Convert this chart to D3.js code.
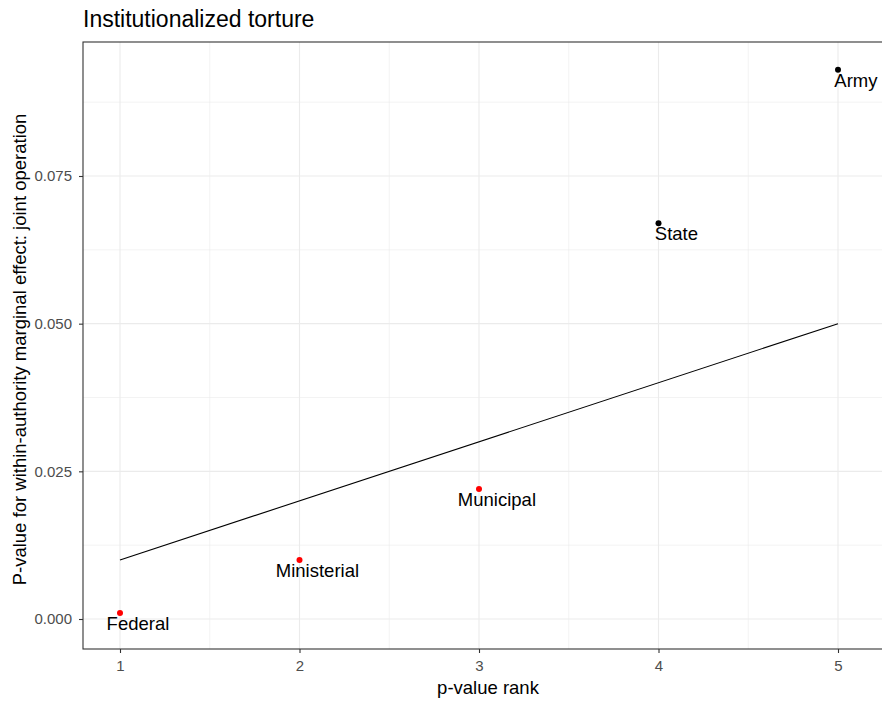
<!DOCTYPE html>
<html lang="en">
<head>
    <meta charset="UTF-8">
    <title>Institutionalized torture</title>
    <style>
        body { margin: 0; background: #fff; }
        text { font-family: "Liberation Sans", Arial, sans-serif; }
    </style>
</head>
<body>
    <div id="chart"></div>
    <script src="https://d3js.org/d3.v7.min.js"></script>
    <script>
        // data
        const authorities = ["Federal", "Ministerial", "Municipal", "State", "Army"];
        const ranks = [1, 2, 3, 4, 5];
        const pValues = [0.001, 0.010, 0.022, 0.067, 0.093];
        const significant = [true, true, true, false, false];
        // Benjamini-Hochberg threshold line (rank / 5 * 0.05)
        const lineRanks = [1, 5];
        const lineValues = [0.010, 0.050];
        const yTicks = [0, 0.025, 0.05, 0.075];
        const xTicks = [1, 2, 3, 4, 5];

        const width = 882, height = 704;
        const panel = { left: 83, top: 42, right: 893, bottom: 649 };

        const svg = d3.select("#chart").append("svg")
            .attr("width", width)
            .attr("height", height);

        const x = d3.scaleLinear().domain([1, 5]).range([120, 838]);
        const y = d3.scaleLinear().domain([0, 0.075]).range([619, 176]);

        // grid lines (major + minor like theme_bw)
        const grid = svg.append("g");
        const xGrid = d3.range(1, 5.01, 0.5);
        const yGrid = d3.range(0, 0.0976, 0.0125);
        grid.selectAll(".vg").data(xGrid).enter().append("line")
            .attr("x1", d => x(d)).attr("x2", d => x(d))
            .attr("y1", panel.top).attr("y2", panel.bottom)
            .attr("stroke", "#ebebeb")
            .attr("stroke-width", (d, i) => i % 2 === 0 ? 1.1 : 0.6);
        grid.selectAll(".hg").data(yGrid).enter().append("line")
            .attr("x1", panel.left).attr("x2", panel.right)
            .attr("y1", d => y(d)).attr("y2", d => y(d))
            .attr("stroke", "#ebebeb")
            .attr("stroke-width", (d, i) => i % 2 === 0 ? 1.1 : 0.6);

        // threshold line
        svg.append("line")
            .attr("x1", x(lineRanks[0])).attr("y1", y(lineValues[0]))
            .attr("x2", x(lineRanks[1])).attr("y2", y(lineValues[1]))
            .attr("stroke", "black")
            .attr("stroke-width", 1.1);

        // points
        svg.selectAll(".pt").data(ranks).enter().append("circle")
            .attr("cx", d => x(d))
            .attr("cy", (d, i) => y(pValues[i]))
            .attr("r", 3)
            .attr("fill", (d, i) => significant[i] ? "red" : "black");

        // labels nudged right and down
        svg.selectAll(".lbl").data(ranks).enter().append("text")
            .attr("x", d => x(d + 0.1))
            .attr("y", (d, i) => y(pValues[i]) + 17)
            .attr("text-anchor", "middle")
            .attr("font-size", 18.5)
            .attr("fill", "black")
            .text((d, i) => authorities[i]);

        // panel border
        svg.append("rect")
            .attr("x", panel.left).attr("y", panel.top)
            .attr("width", panel.right - panel.left)
            .attr("height", panel.bottom - panel.top)
            .attr("fill", "none")
            .attr("stroke", "#333333")
            .attr("stroke-width", 1.1);

        // axes
        const xAxis = svg.append("g")
            .attr("transform", `translate(0,${panel.bottom})`)
            .call(d3.axisBottom(x).tickValues(xTicks).tickSize(4).tickPadding(7).tickFormat(d3.format("d")));
        const yAxis = svg.append("g")
            .attr("transform", `translate(${panel.left},0)`)
            .call(d3.axisLeft(y).tickValues(yTicks).tickSize(4).tickPadding(7).tickFormat(d3.format(".3f")));
        [xAxis, yAxis].forEach(a => {
            a.select(".domain").remove();
            a.selectAll(".tick line").attr("stroke", "#333333").attr("stroke-width", 1.1);
            a.selectAll(".tick text")
                .attr("fill", "#4d4d4d")
                .attr("font-size", 15)
                .attr("font-family", "'Liberation Sans', Arial, sans-serif");
        });

        // titles
        svg.append("text")
            .attr("x", panel.left).attr("y", 27)
            .attr("font-size", 23)
            .attr("fill", "black")
            .text("Institutionalized torture");

        svg.append("text")
            .attr("x", (panel.left + panel.right) / 2).attr("y", 694)
            .attr("text-anchor", "middle")
            .attr("font-size", 18.5)
            .attr("fill", "black")
            .text("p-value rank");

        svg.append("text")
            .attr("transform", `translate(26,${(panel.top + panel.bottom) / 2 + 4}) rotate(-90)`)
            .attr("text-anchor", "middle")
            .attr("font-size", 18.5)
            .attr("fill", "black")
            .text("P-value for within-authority marginal effect: joint operation");
    </script>
</body>
</html>
